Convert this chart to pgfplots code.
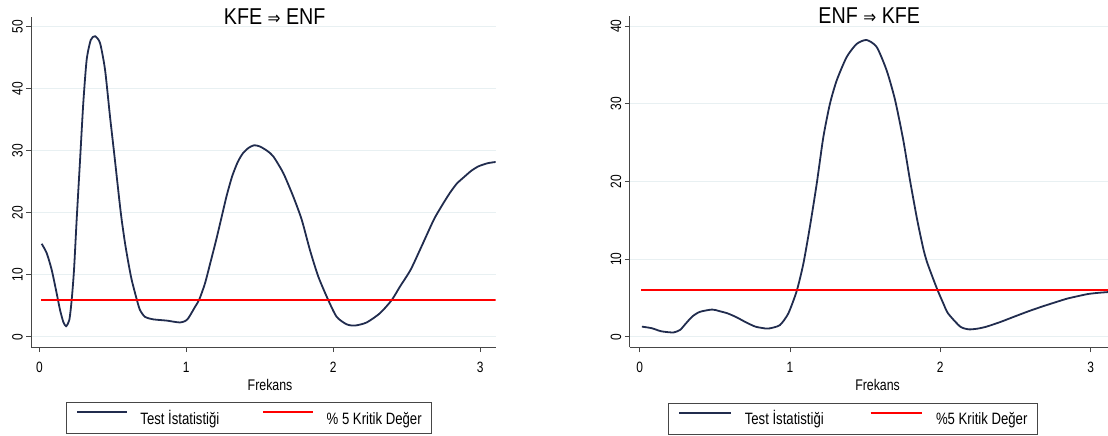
\documentclass[border=0pt]{standalone}
\usepackage{fontspec}
\setmainfont{Liberation Sans}[FakeStretch=0.8]
\newfontfamily\titlefont{Liberation Sans}[FakeStretch=0.86]
\newfontfamily\djv{DejaVu Sans}[FakeStretch=0.86]
\usepackage{pgfplots}
\pgfplotsset{compat=1.18}
\definecolor{navyc}{RGB}{33,44,78}
\definecolor{gridc}{RGB}{232,240,242}
\definecolor{axc}{RGB}{70,70,70}

\pgfplotstableread{
x y
0.016 15.0
0.050 13.5
0.084 10.8
0.118 7.0
0.141 4.3
0.163 2.4
0.182 1.7
0.204 2.7
0.220 5.9
0.236 10.8
0.254 18.9
0.277 28.5
0.299 37.7
0.322 44.7
0.350 47.9
0.379 48.5
0.413 47.4
0.447 43.1
0.481 35.5
0.512 29.0
0.544 22.1
0.560 18.9
0.583 15.1
0.606 11.9
0.628 9.2
0.663 6.0
0.685 4.3
0.719 3.2
0.776 2.8
0.867 2.6
0.920 2.4
0.957 2.3
0.990 2.5
1.014 3.0
1.059 4.8
1.088 6.0
1.127 8.6
1.161 11.7
1.203 15.6
1.239 19.2
1.275 22.8
1.312 25.9
1.350 28.2
1.385 29.6
1.425 30.5
1.462 30.9
1.501 30.7
1.550 30.0
1.592 29.1
1.660 26.4
1.728 22.6
1.785 18.9
1.841 14.0
1.898 9.7
1.966 5.9
2.023 3.2
2.091 2.0
2.148 1.8
2.227 2.3
2.318 3.8
2.397 5.9
2.454 8.1
2.526 10.8
2.599 14.5
2.684 18.9
2.740 21.2
2.793 23.2
2.840 24.7
2.891 25.8
2.940 26.8
2.988 27.5
3.050 28.0
3.105 28.2
}\leftdata

\pgfplotstableread{
x y
0.015 1.3
0.080 1.1
0.144 0.7
0.225 0.55
0.270 0.9
0.307 1.7
0.350 2.6
0.400 3.2
0.482 3.5
0.530 3.3
0.586 3.0
0.645 2.5
0.703 1.9
0.770 1.3
0.842 1.05
0.867 1.08
0.933 1.5
0.989 3.0
1.045 5.9
1.089 9.4
1.133 14.2
1.178 19.7
1.222 25.7
1.266 30.0
1.311 33.0
1.377 36.0
1.444 37.7
1.510 38.2
1.577 37.3
1.643 34.3
1.699 30.5
1.754 25.3
1.798 20.2
1.843 15.4
1.865 13.3
1.890 11.1
1.912 9.6
1.950 7.6
1.982 6.0
2.020 4.3
2.052 3.0
2.133 1.3
2.191 0.95
2.250 1.05
2.308 1.3
2.400 1.9
2.494 2.6
2.590 3.3
2.680 3.9
2.760 4.4
2.843 4.9
2.910 5.2
2.983 5.5
3.050 5.65
3.116 5.75
}\rightdata

\pgfplotsset{
  stata/.style={
    scale only axis,
    axis x line*=bottom, axis y line*=left,
    axis line style={-, draw=axc, line width=0.9bp},
    tick style={draw=axc, line width=0.9bp},
    tick align=outside,
    major tick length=5bp,
    ymajorgrids, grid style={draw=gridc, line width=1bp},
    /pgf/number format/assume math mode=true,
    ticklabel style={font=\fontsize{15}{15}\selectfont},
    xtick={0,1,2,3},
    yticklabel style={xshift=-3.5bp, rotate=90, anchor=south, inner sep=0pt},
    xticklabel style={anchor=north, inner sep=0pt, yshift=-10bp},
    xlabel={Frekans},
    label style={font=\fontsize{15.5}{15.5}\selectfont},
    title style={font=\titlefont\fontsize{23}{23}\selectfont, anchor=base, yshift=-13bp},
    legend columns=2,
    legend style={draw=axc, line width=0.9bp, font=\fontsize{16.5}{16.5}\selectfont,
      inner ysep=7.75bp, anchor=north west,
      nodes={inner sep=0pt, text height=13.6bp, text depth=1.9bp},
      column sep=0pt},
  }
}

\begin{document}
\begin{tikzpicture}
\useasboundingbox (0,0) rectangle (1108bp,436bp);
\begin{axis}[stata,
  at={(31.4bp,89bp)}, anchor=south west,
  width=464.3bp, height=330bp,
  xmin=-0.054, xmax=3.105, ymin=-1.66, ymax=51.6,
  ytick={0,10,20,30,40,50},
  title={KFE {\djv\fontsize{18}{18}\selectfont ⇒} ENF},
  title style={at={(axis description cs:0.524,1)}},
  xlabel style={at={(axis description cs:0.514,0)}, anchor=base, yshift=-43bp},
  legend image code/.code={\draw[#1, line width=1.8bp] (0bp,5.9bp) -- (49.5bp,5.9bp);},
  legend style={at={(axis description cs:0.0739,-0.1676)}, inner xsep=10bp,
    /tikz/every odd column/.append style={column sep=13bp},
    /tikz/every even column/.append style={column sep=43bp}},
]
\addplot[navyc, line width=1.8bp, smooth, tension=0.4] table[x=x,y=y] {\leftdata};
\addlegendentry{Test İstatistiği}
\addplot[red, line width=2bp] coordinates {(0.012,6) (3.105,6)};
\addlegendentry{\% 5 Kritik Değer\hspace{47.6bp}}
\end{axis}

\begin{axis}[stata,
  at={(629.9bp,88.7bp)}, anchor=south west,
  width=478.1bp, height=331.3bp,
  xmin=-0.065, xmax=3.116, ymin=-1.36, ymax=41.29,
  ytick={0,10,20,30,40},
  title={ENF {\djv\fontsize{18}{18}\selectfont ⇒} KFE},
  title style={at={(axis description cs:0.5007,1)}},
  xlabel style={at={(axis description cs:0.518,0)}, anchor=base, yshift=-42.7bp},
  legend image code/.code={\draw[#1, line width=1.8bp] (0bp,5.9bp) -- (51.4bp,5.9bp);},
  legend style={at={(axis description cs:0.079,-0.1672)}, inner xsep=10.4bp,
    /tikz/every odd column/.append style={column sep=13.1bp},
    /tikz/every even column/.append style={column sep=46bp}},
]
\addplot[navyc, line width=1.8bp, smooth, tension=0.4] table[x=x,y=y] {\rightdata};
\addlegendentry{Test İstatistiği}
\addplot[red, line width=2bp] coordinates {(0.009,6) (3.116,6)};
\addlegendentry{\%5 Kritik Değer\hspace{49.9bp}}
\end{axis}
\end{tikzpicture}
\end{document}
